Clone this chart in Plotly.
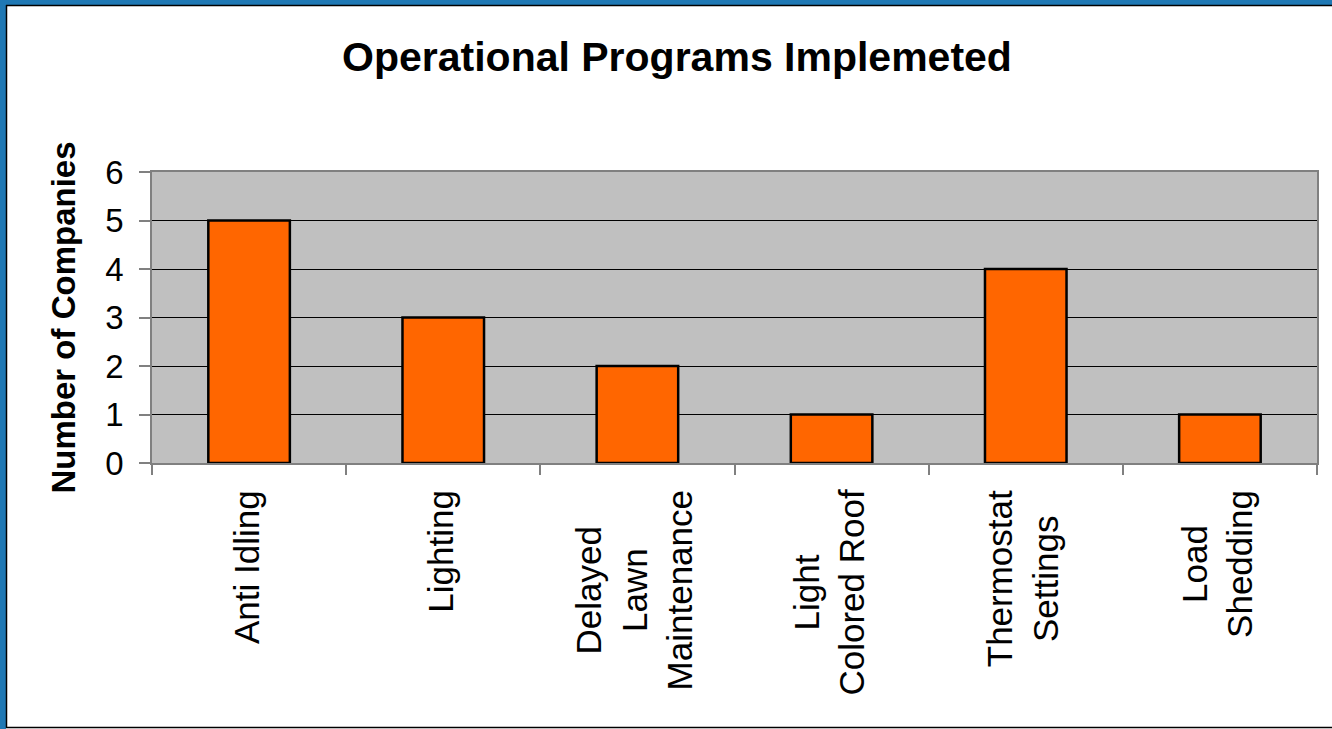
import plotly.graph_objects as go

categories = ["Anti Idling", "Lighting", "Delayed Lawn Maintenance", "Light Colored Roof",
              "Thermostat Settings", "Load Shedding"]
label_lines = [["Anti Idling"], ["Lighting"], ["Delayed", "Lawn", "Maintenance"],
               ["Light", "Colored Roof"], ["Thermostat", "Settings"], ["Load", "Shedding"]]
values = [5, 3, 2, 1, 4, 1]
y_ticks = [0, 1, 2, 3, 4, 5, 6]

W, H = 1332, 729
ML, MR, MT, MB = 152, 15, 172, 266
PW, PH = W - ML - MR, H - MT - MB
FONT = "Arial, 'Liberation Sans', sans-serif"


def px_x(p):
    return (p - ML) / PW


def px_y(p):
    return (H - MB - p) / PH


fig = go.Figure(go.Bar(
    x=categories, y=values,
    marker=dict(color="#FF6600", line=dict(color="#000000", width=2.5)),
))

annotations = []
for cat, lines in zip(categories, label_lines):
    annotations.append(dict(
        x=cat, y=0, xref="x", yref="paper", xanchor="center", yanchor="top",
        yshift=-25, xshift=-3, textangle=-90, align="center", showarrow=False,
        text="<br>".join(lines), font=dict(family=FONT, size=35, color="#000000"),
    ))

blue = "#1F78B4"
shapes = [
    dict(type="rect", xref="paper", yref="paper", x0=px_x(0), x1=px_x(6), y0=px_y(0), y1=px_y(H),
         fillcolor=blue, line=dict(width=0), layer="above"),
    dict(type="rect", xref="paper", yref="paper", x0=px_x(0), x1=px_x(W), y0=px_y(0), y1=px_y(5),
         fillcolor=blue, line=dict(width=0), layer="above"),
    dict(type="line", xref="paper", yref="paper", x0=px_x(6.5), x1=px_x(6.5), y0=px_y(5), y1=px_y(728),
         line=dict(color="#000000", width=1.5), layer="above"),
    dict(type="line", xref="paper", yref="paper", x0=px_x(6), x1=px_x(W), y0=px_y(5.5), y1=px_y(5.5),
         line=dict(color="#000000", width=1.5), layer="above"),
    dict(type="line", xref="paper", yref="paper", x0=px_x(6), x1=px_x(W), y0=px_y(727.5), y1=px_y(727.5),
         line=dict(color="#000000", width=1.5), layer="above"),
]

fig.update_layout(
    width=W, height=H,
    margin=dict(l=ML, r=MR, t=MT, b=MB),
    paper_bgcolor="#FFFFFF", plot_bgcolor="#C0C0C0",
    bargap=0.58, showlegend=False,
    font=dict(family=FONT, color="#000000"),
    title=dict(text="<b>Operational Programs Implemeted</b>", x=677 / W, xanchor="center",
               y=1 - 57 / H, yanchor="middle", xref="container", yref="container",
               font=dict(family=FONT, size=41, color="#000000")),
    annotations=annotations,
    shapes=shapes,
)
fig.update_xaxes(
    showticklabels=False, ticks="outside", tickson="boundaries", ticklen=10,
    tickcolor="#808080", tickwidth=1.5,
    showline=True, linecolor="#808080", linewidth=1.5, mirror=True, showgrid=False,
)
fig.update_yaxes(
    range=[0, 6], tickvals=y_ticks, ticks="outside", ticklen=11, tickcolor="#808080", tickwidth=1.5,
    ticklabelstandoff=9,
    tickfont=dict(family=FONT, size=33, color="#000000"),
    showgrid=True, gridcolor="#000000", gridwidth=1,
    showline=True, linecolor="#808080", linewidth=1.5, mirror=True, zeroline=False,
    title=dict(text="<b>Number of Companies</b>", font=dict(family=FONT, size=33, color="#000000"),
               standoff=20),
)

fig.write_html(
    "out.html",
    config={"displayModeBar": False},
    post_script="document.body.style.margin='0';document.body.style.overflow='hidden';",
)
